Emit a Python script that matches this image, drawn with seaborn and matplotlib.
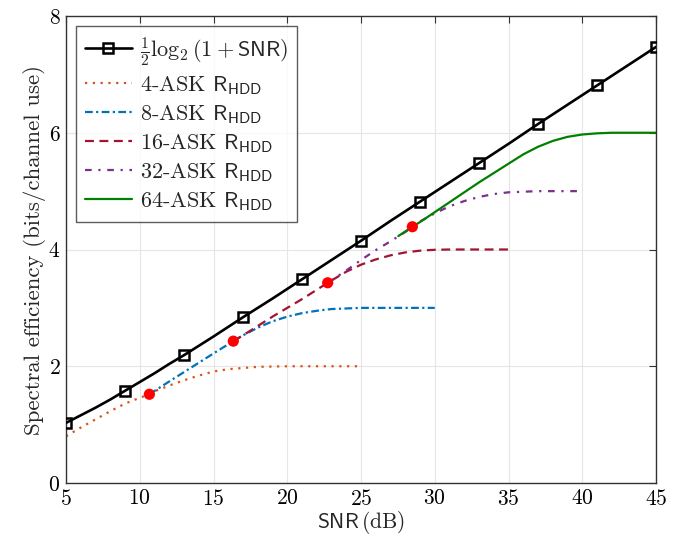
import numpy as np
import pandas as pd
import seaborn as sns
import matplotlib as mpl
import matplotlib.pyplot as plt

############################# DATA #############################

# Shannon capacity 1/2 log2(1+SNR)
snrCap = [5, 6, 7, 8, 9, 10, 11, 12, 13, 15, 17, 19, 21, 23, 25, 27, 29, 31, 33,
          35, 37, 39, 41, 43, 45]
rateCap = [1.03, 1.16, 1.29, 1.43, 1.58, 1.73, 1.88, 2.04, 2.19, 2.51, 2.84,
           3.16, 3.49, 3.82, 4.15, 4.49, 4.82, 5.15, 5.48, 5.81, 6.15, 6.48,
           6.81, 7.14, 7.47]
snrMarks = [5, 9, 13, 17, 21, 25, 29, 33, 37, 41, 45]

# HDD rates per constellation
snr4 = [5, 6, 7, 8, 9, 10, 10.65, 11, 12, 13, 14, 15, 16, 17, 18, 19, 20, 22, 25]
rate4 = [0.80, 0.95, 1.09, 1.23, 1.36, 1.46, 1.52, 1.57, 1.67, 1.76, 1.84, 1.91,
         1.95, 1.97, 1.99, 1.995, 2.0, 2.0, 2.0]

snr8 = [10.65, 12, 13, 14, 15, 16.34, 17, 18, 19, 20, 21, 22, 23, 24, 25, 30]
rate8 = [1.52, 1.74, 1.90, 2.06, 2.22, 2.43, 2.53, 2.66, 2.77, 2.85, 2.91, 2.95,
         2.98, 2.99, 3.0, 3.0]

snr16 = [16.34, 17, 18, 19, 20, 21, 22, 22.74, 24, 25, 26, 27, 28, 29, 30, 31, 35]
rate16 = [2.43, 2.53, 2.69, 2.85, 3.0, 3.15, 3.31, 3.43, 3.62, 3.74, 3.83, 3.90,
          3.95, 3.98, 3.995, 4.0, 4.0]

snr32 = [22.74, 24, 25, 26, 27, 28, 28.48, 29, 30, 31, 32, 33, 34, 35, 36, 37, 40]
rate32 = [3.43, 3.64, 3.82, 3.99, 4.14, 4.30, 4.38, 4.48, 4.62, 4.74, 4.83, 4.90,
          4.95, 4.98, 4.99, 5.0, 5.0]

snr64 = [27.53, 28.48, 29, 30, 31, 32, 33, 34, 35, 36, 37, 38, 39, 40, 41, 42, 45]
rate64 = [4.23, 4.39, 4.47, 4.64, 4.81, 4.98, 5.15, 5.31, 5.47, 5.63, 5.76, 5.86,
          5.93, 5.97, 5.99, 6.0, 6.0]

# switching points
snrSwitch = [10.65, 16.34, 22.74, 28.48]
rateSwitch = [1.52, 2.43, 3.43, 4.39]

############################# PLOT OPTIONS #############################

sns.set_style('whitegrid')
mpl.rcParams['font.family'] = 'serif'
mpl.rcParams['font.serif'] = ['cmr10', 'DejaVu Serif']
mpl.rcParams['mathtext.fontset'] = 'cm'
mpl.rcParams['axes.formatter.use_mathtext'] = True
mpl.rcParams['axes.unicode_minus'] = False

lw = 1.6
fs = 15.5

fig = plt.figure(figsize=(6.85, 5.39), dpi=100)
ax = fig.add_axes([0.0964, 0.1039, 0.8613, 0.8664])

############################# PLOT #############################

markIdx = [snrCap.index(v) for v in snrMarks]
sns.lineplot(x=snrCap, y=rateCap, ax=ax, color='black', linewidth=1.9,
             marker='s', markersize=7, markerfacecolor='none',
             markeredgecolor='black', markeredgewidth=1.8, markevery=markIdx,
             label=r'$\frac{1}{2}\log_2(1+\mathsf{SNR})$', zorder=3)
sns.lineplot(x=snr4, y=rate4, ax=ax, color='#D95319', linewidth=lw,
             linestyle=(0, (1, 2.5)), label=r'4-ASK $\mathsf{R}_{\mathsf{HDD}}$')
sns.lineplot(x=snr8, y=rate8, ax=ax, color='#0072BD', linewidth=lw,
             linestyle=(0, (3.5, 1.5, 1, 1.5)), label=r'8-ASK $\mathsf{R}_{\mathsf{HDD}}$')
sns.lineplot(x=snr16, y=rate16, ax=ax, color='#A2142F', linewidth=lw,
             linestyle=(0, (4, 2.5)), label=r'16-ASK $\mathsf{R}_{\mathsf{HDD}}$')
sns.lineplot(x=snr32, y=rate32, ax=ax, color='#7E2F8E', linewidth=lw,
             linestyle=(0, (3, 3, 1, 3)), label=r'32-ASK $\mathsf{R}_{\mathsf{HDD}}$')
sns.lineplot(x=snr64, y=rate64, ax=ax, color='#008000', linewidth=lw,
             linestyle='-', label=r'64-ASK $\mathsf{R}_{\mathsf{HDD}}$')
sns.scatterplot(x=snrSwitch, y=rateSwitch, ax=ax, color='red', s=65,
                edgecolor='none', zorder=4)

ax.set_xlim(5, 45)
ax.set_ylim(0, 8)
ax.set_xticks(np.arange(5, 46, 5))
ax.set_yticks([0, 2, 4, 6, 8])
ax.grid(True, color='#e6e6e6', linewidth=0.8)
for s in ax.spines.values():
    s.set_color('#333333')
    s.set_linewidth(1.0)
ax.tick_params(direction='in', length=5, width=0.8, top=True, right=True,
               labelsize=fs, colors='#333333', labelcolor='black', pad=4)
ax.set_xlabel(r'$\mathsf{SNR}\,\mathrm{(dB)}$', fontsize=fs, labelpad=0)
ax.set_ylabel('Spectral efficiency (bits/channel use)', fontsize=16.5, labelpad=2)

leg = ax.legend(loc='upper left', fontsize=16, handlelength=2.1,
                borderaxespad=0.45, frameon=True, fancybox=False,
                labelspacing=0.28, handletextpad=0.4, borderpad=0.4)
leg.get_frame().set_edgecolor('#333333')
leg.get_frame().set_linewidth(1.0)

fig.savefig('out.png', dpi=100)
